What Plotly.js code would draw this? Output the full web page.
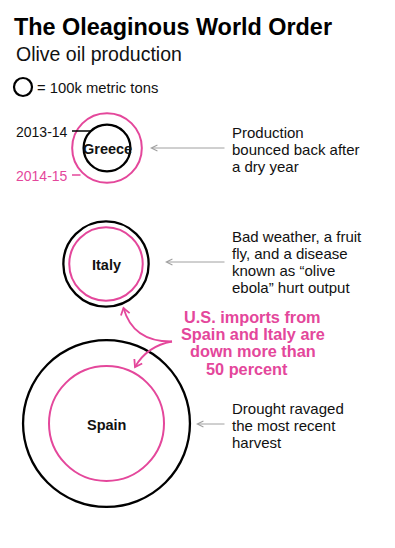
<!DOCTYPE html>
<html>
<head>
<meta charset="utf-8">
<script src="https://cdn.plot.ly/plotly-3.0.1.min.js"></script>
<style>html,body{margin:0;padding:0;background:#fff;}#chart{width:395px;height:548px;}</style>
</head>
<body>
<div id="chart"></div>
<script>
// ---- data (thousand metric tons, estimated from circle areas) ----
var countries = ['Greece', 'Italy', 'Spain'];
var seasons = ['2013-14', '2014-15'];
var prod1314 = [140, 465, 1780];
var prod1415 = [310, 345, 845];
var legendLabel = '= 100k metric tons';
var titleText = 'The Oleaginous World Order';
var subtitleText = 'Olive oil production';
var notes = [
  ['Production', 'bounced back after', 'a dry year'],
  ['Bad weather, a fruit', 'fly, and a disease', 'known as \u201colive', 'ebola\u201d hurt output'],
  ['Drought ravaged', 'the most recent', 'harvest']
];
var callout = ['U.S. imports from', 'Spain and Italy are', 'down more than', '50 percent'];

// ---- layout / style ----
var W = 395, H = 548;
var PINK = '#e4479b', GREY = '#a0a0a0';
var FONT = 'Liberation Sans, Arial, Helvetica, sans-serif';
var cx = [107, 106, 106.5], cy = [148, 264, 423.5];
var pxPerSqrt = 1.978;                       // circle radius (px) per sqrt(thousand t)
var sizeref = 1 / (2 * pxPerSqrt * pxPerSqrt); // plotly area mode: r = sqrt(v/(2*sizeref))

var traces = [
  {x: cx, y: cy, type: 'scatter', mode: 'markers', name: seasons[0], hoverinfo: 'skip',
   cliponaxis: false,
   marker: {symbol: 'circle-open', size: prod1314, sizemode: 'area', sizeref: sizeref, opacity: 1,
            color: '#000', line: {color: '#000', width: 2.3}}},
  {x: cx, y: cy, type: 'scatter', mode: 'markers', name: seasons[1], hoverinfo: 'skip',
   cliponaxis: false,
   marker: {symbol: 'circle-open', size: prod1415, sizemode: 'area', sizeref: sizeref, opacity: 1,
            color: PINK, line: {color: PINK, width: 2}}},
  {x: [23], y: [87], type: 'scatter', mode: 'markers', hoverinfo: 'skip', cliponaxis: false,
   marker: {symbol: 'circle-open', size: 18, opacity: 1, color: '#000', line: {color: '#000', width: 2.2}}}
];

var ann = [];
function txt(x, y, text, opts) {
  opts = opts || {};
  ann.push({x: x, y: y, xref: 'x', yref: 'y', text: text, showarrow: false,
            xanchor: opts.xanchor || 'left', yanchor: 'middle',
            font: {family: FONT, size: opts.size || 15, color: opts.color || '#111',
                   weight: opts.weight || 400}});
}
txt(14, 54, subtitleText, {size: 19.5});
txt(35, 87.5, legendLabel, {size: 14.8});
txt(14, 132, seasons[0], {size: 14});
txt(14, 175.5, seasons[1], {size: 14, color: PINK});
countries.forEach(function (c, i) { txt(cx[i], cy[i] + 1, c, {xanchor: 'center', weight: 700, size: 14.5}); });

var noteY = [[132.5, 149.5, 166.5], [236.5, 253.5, 270.5, 287.5], [408.5, 425.5, 442]];
notes.forEach(function (lines, i) {
  lines.forEach(function (l, j) { txt(230, noteY[i][j], l, {size: 15}); });
});
var calloutX = [182, 179, 188, 204], calloutY = [317.2, 334.3, 351.4, 368.5];
callout.forEach(function (l, j) { txt(calloutX[j], calloutY[j], l, {size: 16.3, weight: 700, color: PINK}); });

// grey arrows pointing at circles
var arrows = [[150, 148, 226], [165, 262, 226], [196, 424, 226]];
arrows.forEach(function (a) {
  ann.push({x: a[0], y: a[1], ax: a[2], ay: a[1], xref: 'x', yref: 'y', axref: 'x', ayref: 'y',
            text: '', showarrow: true, arrowhead: 5, arrowsize: 1.2, arrowwidth: 1, arrowcolor: GREY,
            standoff: 0});
});

// shapes: leader lines and pink curved arrows
var shapes = [
  {type: 'line', xref: 'x', yref: 'y', x0: 72, y0: 131, x1: 91, y1: 131, line: {color: '#000', width: 1.5}},
  {type: 'line', xref: 'x', yref: 'y', x0: 72, y0: 175, x1: 80.5, y1: 175, line: {color: PINK, width: 1.5}}
];
function curveArrow(s, c, e) {
  shapes.push({type: 'path', xref: 'x', yref: 'y',
    path: 'M' + s[0] + ',' + s[1] + ' Q' + c[0] + ',' + c[1] + ' ' + e[0] + ',' + e[1],
    line: {color: PINK, width: 1.8}});
  var dx = e[0] - c[0], dy = e[1] - c[1], L = Math.sqrt(dx * dx + dy * dy);
  dx /= L; dy /= L;
  var len = 8, ang = 0.6;
  function arm(sg) {
    var ca = Math.cos(sg * ang), sa = Math.sin(sg * ang);
    var rx = -(dx * ca - dy * sa), ry = -(dx * sa + dy * ca);
    return [e[0] + rx * len, e[1] + ry * len];
  }
  var a1 = arm(1), a2 = arm(-1);
  shapes.push({type: 'path', xref: 'x', yref: 'y',
    path: 'M' + a1[0] + ',' + a1[1] + ' L' + e[0] + ',' + e[1] + ' L' + a2[0] + ',' + a2[1],
    line: {color: PINK, width: 1.8}});
}
curveArrow([172, 341.5], [133, 342], [123.5, 308]);
curveArrow([172, 341.5], [147, 346], [135, 367]);

var layout = {
  width: W, height: H,
  margin: {l: 0, r: 0, t: 0, b: 0},
  paper_bgcolor: '#fff', plot_bgcolor: '#fff',
  showlegend: false,
  title: {text: titleText, xref: 'container', yref: 'container', x: 14 / W, xanchor: 'left',
          y: 1 - 27 / H, yanchor: 'middle',
          font: {family: FONT, size: 23.4, weight: 700, color: '#000'}},
  xaxis: {range: [0, W], visible: false, fixedrange: true},
  yaxis: {range: [H, 0], visible: false, fixedrange: true},
  annotations: ann,
  shapes: shapes
};
Plotly.newPlot('chart', traces, layout, {staticPlot: true, displayModeBar: false});
</script>
</body>
</html>
